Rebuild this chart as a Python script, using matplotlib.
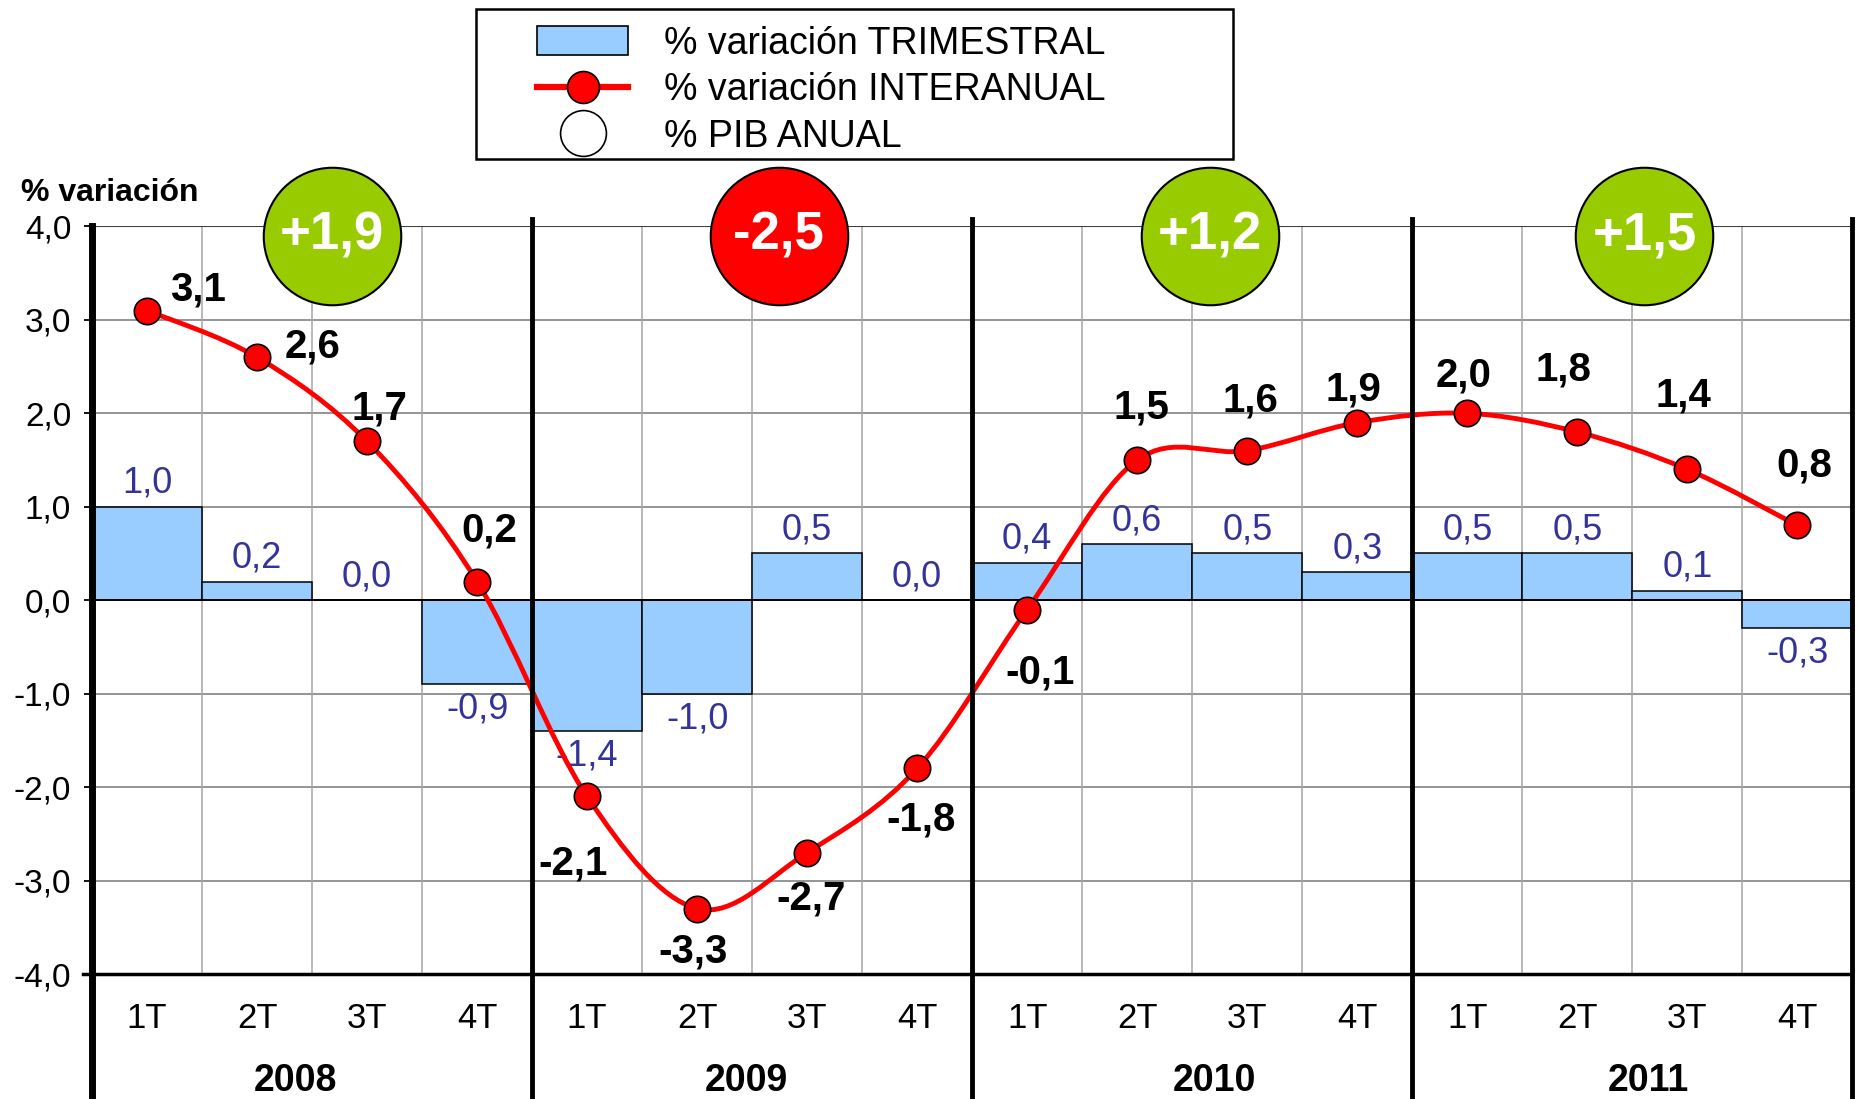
import numpy as np
import matplotlib.pyplot as plt
from matplotlib.patches import Patch, PathPatch, Rectangle
from matplotlib.lines import Line2D
from matplotlib.path import Path
import matplotlib.transforms as mtransforms

plt.rcParams['font.family'] = ['Liberation Sans', 'DejaVu Sans']

# =====================================================
# Data
# =====================================================

quarters = ['1T', '2T', '3T', '4T'] * 4
years = ['2008', '2009', '2010', '2011']

trimestral = [1.0, 0.2, 0.0, -0.9,
              -1.4, -1.0, 0.5, 0.0,
              0.4, 0.6, 0.5, 0.3,
              0.5, 0.5, 0.1, -0.3]

interanual = [3.1, 2.6, 1.7, 0.2,
              -2.1, -3.3, -2.7, -1.8,
              -0.1, 1.5, 1.6, 1.9,
              2.0, 1.8, 1.4, 0.8]

pib_anual = [1.9, -2.5, 1.2, 1.5]

y_ticks = [-4, -3, -2, -1, 0, 1, 2, 3, 4]

# =====================================================
# Styles / label placement
# =====================================================

BAR_COLOR = '#99CCFF'
BAR_TEXT = '#333399'
LINE_COLOR = '#FF0000'
GREEN = '#99CC00'
RED = '#FF0000'

# offsets (points) of the interanual labels from their markers
label_offsets = [(37, 15), (40, 8), (9, 24), (9, 37),
                 (-10, -48), (-3, -31), (3, -33), (3, -37),
                 (9, -45), (3, 38), (2, 36), (-3, 24),
                 (-3, 27), (-10, 45), (-3, 53), (5, 43)]

# x position of the annual circles and the year labels
circle_x = [1.68, 5.74, 9.66, 13.61]
circle_y = 3.9
year_label_x = [1.35, 5.45, 9.7, 13.65]


def fmt(v, sign=False):
    s = f'{v:+.1f}' if sign else f'{v:.1f}'
    return s.replace('.', ',')


def smooth_path(x, y):
    # Catmull-Rom style bezier through the points (Excel "smoothed line")
    verts = [(x[0], y[0])]
    codes = [Path.MOVETO]
    n = len(x)
    for i in range(n - 1):
        x0, y0 = (x[i - 1], y[i - 1]) if i > 0 else (x[i], y[i])
        x3, y3 = (x[i + 2], y[i + 2]) if i + 2 < n else (x[i + 1], y[i + 1])
        c1 = (x[i] + (x[i + 1] - x0) / 6, y[i] + (y[i + 1] - y0) / 6)
        c2 = (x[i + 1] - (x3 - x[i]) / 6, y[i + 1] - (y3 - y[i]) / 6)
        verts += [c1, c2, (x[i + 1], y[i + 1])]
        codes += [Path.CURVE4] * 3
    return Path(verts, codes)


# =====================================================
# Figure
# =====================================================

fig = plt.figure(figsize=(18.58, 10.99), dpi=100)
ax = fig.add_axes([0.0495, 0.1137, 0.9475, 0.6803])

x = np.arange(len(trimestral))

ax.set_xlim(-0.5, 15.5)
ax.set_ylim(-4, 4)

# grid
for yv in y_ticks:
    if yv in (-4, 0, 4):
        continue
    ax.axhline(yv, color='#8C8C8C', lw=1.3, zorder=0)
for xv in np.arange(0.5, 15.5, 1):
    ax.axvline(xv, color='#A6A6A6', lw=1.1, zorder=0)

# bars
ax.bar(x, trimestral, width=1.0, color=BAR_COLOR, edgecolor='black',
       linewidth=1.1, zorder=2)

ax.axhline(0, color='black', lw=1.4, zorder=3)

for xi, v in zip(x, trimestral):
    dy = 17 if v >= 0 else -18
    ax.annotate(fmt(v), (xi, v), xytext=(0, dy), textcoords='offset points',
                ha='center', va='center', fontsize=26, color=BAR_TEXT,
                zorder=4)

# interanual smoothed line
ax.add_patch(PathPatch(smooth_path(x, interanual), fill=False,
                       edgecolor=LINE_COLOR, lw=3.5, zorder=5))
ax.plot(x, interanual, ls='none', marker='o', ms=19, mfc=LINE_COLOR,
        mec='black', mew=1.2, zorder=6)

for xi, v, off in zip(x, interanual, label_offsets):
    ax.annotate(fmt(v), (xi, v), xytext=off, textcoords='offset points',
                ha='center', va='center', fontsize=29, fontweight='bold',
                color='black', zorder=7)

# annual GDP circles
for cx, v in zip(circle_x, pib_anual):
    ax.plot(cx, circle_y, marker='o', ms=99, mfc=GREEN if v > 0 else RED,
            mec='black', mew=1.5, clip_on=False, zorder=8)
    ax.text(cx, circle_y, fmt(v, sign=True), ha='center', va='center',
            fontsize=38, fontweight='bold', color='white', zorder=9,
            clip_on=False)

# =====================================================
# Axes
# =====================================================

for s in ax.spines.values():
    s.set_visible(False)

ax.set_yticks(y_ticks)
ax.set_yticklabels([fmt(v) for v in y_ticks], fontsize=24)
ax.tick_params(axis='y', length=6, width=1.3, pad=9)

ax.set_xticks(x)
ax.set_xticklabels(quarters, fontsize=25)
ax.tick_params(axis='x', length=0, pad=20)

trans = mtransforms.blended_transform_factory(ax.transData, ax.transAxes)

ax.axhline(4, color='#404040', lw=1.5, zorder=3)
ax.plot([-0.58, 15.5], [-4, -4], color='black', lw=2.5, clip_on=False, zorder=3)

# year separators
ax.plot([-0.5, -0.5], [-0.2, 1.0], transform=trans, color='black', lw=5,
        clip_on=False, zorder=10)
for xs in [3.5, 7.5, 11.5, 15.5]:
    ax.plot([xs, xs], [-0.2, 1.01], transform=trans, color='black', lw=3.5,
            clip_on=False, zorder=10)

for xl, yr in zip(year_label_x, years):
    ax.text(xl, -0.143, yr, transform=trans, ha='center', va='center',
            fontsize=27, fontweight='bold')

fig.text(0.0113, 0.824, '% variación', ha='left', va='center',
         fontsize=23, fontweight='bold')

# =====================================================
# Legend
# =====================================================

fig.add_artist(Rectangle((0.2562, 0.8553), 0.4074, 0.1365,
                         transform=fig.transFigure, facecolor='white',
                         edgecolor='black', linewidth=1.8, zorder=1))

handles = [
    Patch(facecolor=BAR_COLOR, edgecolor='black', linewidth=1.2),
    Line2D([], [], color=LINE_COLOR, lw=4.5, marker='o', ms=23,
           mfc=LINE_COLOR, mec='black', mew=1.2),
    Line2D([], [], ls='none', marker='o', ms=33, mfc='white', mec='black',
           mew=1.2),
]
labels = ['% variación TRIMESTRAL', '% variación INTERANUAL', '% PIB ANUAL']

leg = fig.legend(handles, labels, loc='upper left',
                 bbox_to_anchor=(0.289, 0.9765), frameon=False,
                 fontsize=27, handlelength=2.43, handleheight=0.8,
                 handletextpad=0.95, borderpad=0, labelspacing=0.28,
                 borderaxespad=0)
leg.set_zorder(2)

plt.savefig('out.png', dpi=100)
